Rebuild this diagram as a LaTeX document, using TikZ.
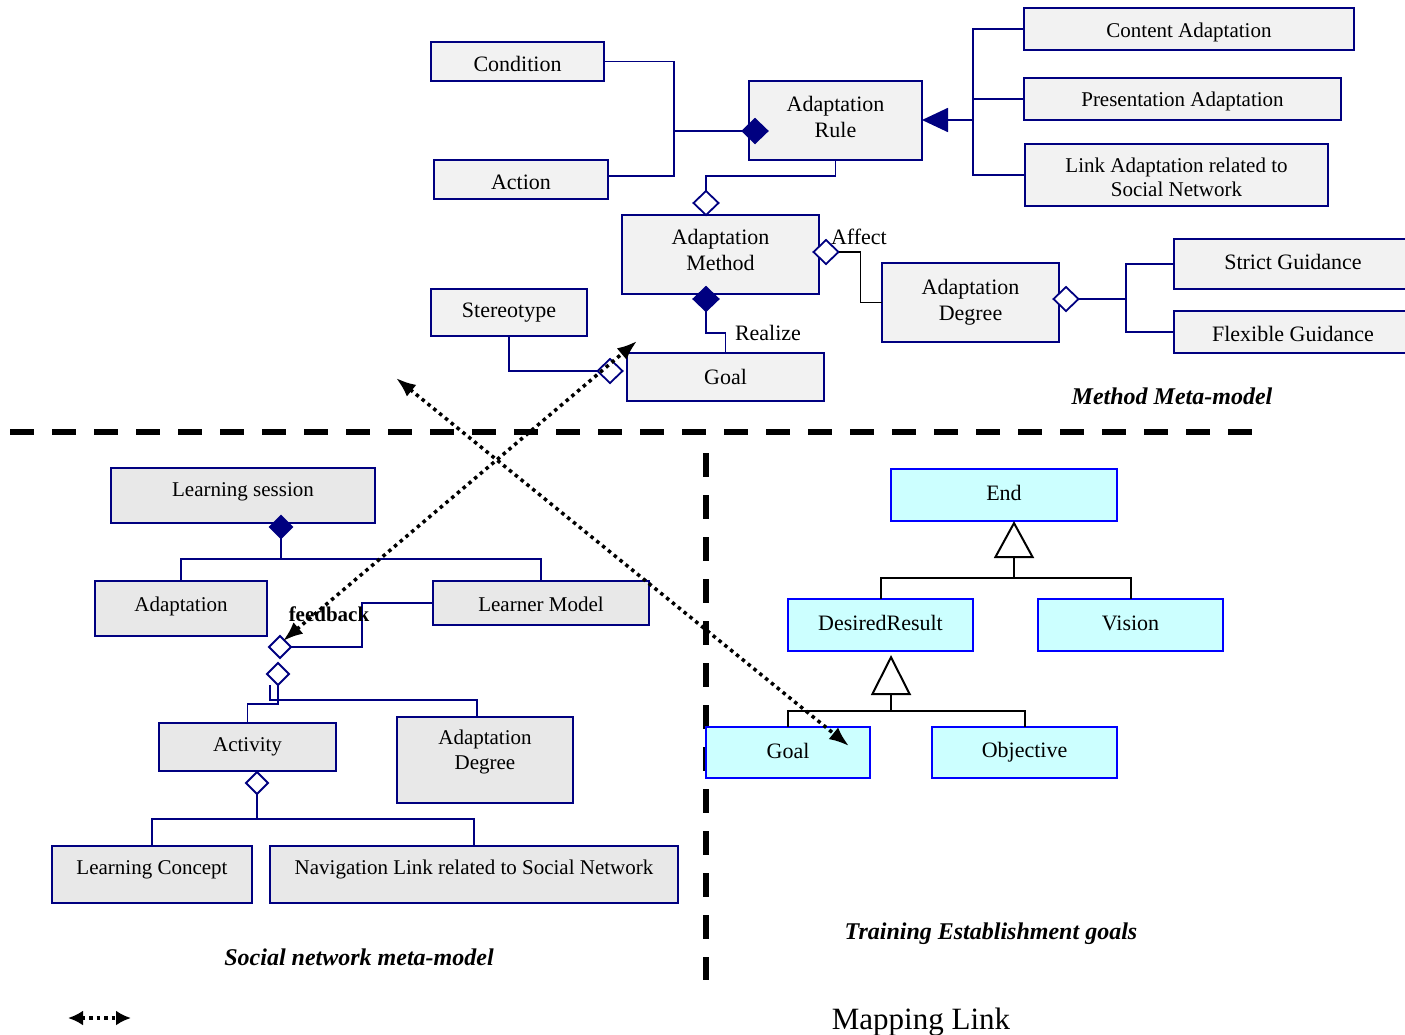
\documentclass[tikz,border=0pt]{standalone}
\usepackage{fontspec}
\setmainfont{Liberation Serif}
\usetikzlibrary{shapes.geometric,arrows.meta}
\definecolor{navy}{RGB}{0,0,128}
\definecolor{boxgray}{RGB}{242,242,242}
\definecolor{boxgrayB}{RGB}{232,232,232}
\definecolor{paleCyan}{RGB}{204,255,255}
\definecolor{brightBlue}{RGB}{0,0,255}
% shift a label inside its box without changing the box's reported size
\newcommand\liftby[2]{\raisebox{#1}[\height][\depth]{#2}}
\newcommand\twolines[2]{\begin{tabular}{@{}c@{}}#1\\#2\end{tabular}}

\begin{document}
\begin{tikzpicture}[x=1pt,y=-1pt,
  every node/.style={inner sep=0pt, outer sep=0pt},
  sz/.style 2 args={minimum width=#1pt, minimum height=#2pt},
  metabox/.style={draw=navy, line width=1.8pt, fill=boxgray, align=center,
    font=\fontsize{22}{26}\selectfont},
  metaboxS/.style={metabox, font=\fontsize{21}{24.5}\selectfont},
  socbox/.style={draw=navy, line width=1.8pt, fill=boxgrayB, align=center,
    font=\fontsize{21}{25}\selectfont},
  goalbox/.style={draw=brightBlue, line width=1.8pt, fill=paleCyan,
    font=\fontsize{22}{26}\selectfont},
  odia/.style={shape=diamond, draw=navy, line width=1.8pt, fill=white,
    minimum width=25pt, minimum height=24pt},
  odiaS/.style={odia, minimum width=22pt, minimum height=22pt},
  fdia/.style={odia, fill=navy},
  fdiaS/.style={odiaS, fill=navy},
  conn/.style={draw=navy, line width=1.8pt},
  gen/.style={draw=black, line width=2pt},
  sep/.style={draw=black, line width=5.5pt, dash pattern=on 24pt off 18pt},
  maplink/.style={draw=black, line width=3.5pt, dash pattern=on 3.5pt off 4pt,
    {Latex[length=20pt,width=15pt]}-{Latex[length=20pt,width=15pt]}},
  lbl/.style={font=\fontsize{22}{26}\selectfont},
  caption/.style={font=\bfseries\itshape\fontsize{24}{28}\selectfont}
]
\useasboundingbox (0,0) rectangle (1405,1034);

% ---------- method meta-model ----------
\node[metabox, sz={173}{39}] (cond) at (517.5,61.5) {\liftby{-2pt}{Condition}};
\node[metabox, sz={174}{39}] (act) at (521,179.5) {\liftby{-2.5pt}{Action}};
\node[metabox, sz={173}{79}] (rule) at (835.5,120.5) {\liftby{1pt}{\twolines{Adaptation}{Rule}}};
\node[metaboxS, sz={330}{42}] (content) at (1189,29) {\liftby{-3pt}{Content Adaptation}};
\node[metaboxS, sz={317}{42}] (pres) at (1182.5,99) {\liftby{-2pt}{Presentation Adaptation}};
\node[metaboxS, sz={303}{62}] (link) at (1176.5,175) {\liftby{-4.5pt}{\twolines{Link Adaptation related to}{Social Network}}};
\node[metabox, sz={197}{79}] (method) at (720.5,254.5) {\liftby{2pt}{\twolines{Adaptation}{Method}}};
\node[metabox, sz={177}{79}] (degT) at (970.5,302.5) {\liftby{0.5pt}{\twolines{Adaptation}{Degree}}};
\node[metabox, sz={238}{50}] (strict) at (1293,264) {\liftby{2pt}{Strict Guidance}};
\node[metabox, sz={238}{42}] (flex) at (1293,332) {\liftby{-2pt}{Flexible Guidance}};
\node[metabox, sz={156}{47}] (stereo) at (509,312.5) {Stereotype};
\node[metabox, sz={197}{48}] (goalT) at (725.5,377) {Goal};

\node[fdia] (dRule) at (755,131) {};
\node[odia] (dMethTop) at (706,203) {};
\node[odia] (dAffect) at (826,252) {};
\node[fdia] (dRealize) at (706,299) {};
\node[odia] (dDegT) at (1066,299) {};
\node[odia] (dStereo) at (610,371) {};

\coordinate (jA) at (674,131);
\draw[conn] (cond.east) -| (jA);
\draw[conn] ([yshift=3.5pt]act.east) -| (jA);
\draw[conn] (jA) -- (dRule.west);
\draw[conn] (rule.south) -- ++(0,16) -| (dMethTop.north);

\coordinate (jR) at (973,120);
\draw[conn, -{Triangle[length=26pt,width=24pt]}] (jR) -- (jR -| rule.east);
\draw[conn] (content.west) -| (jR);
\draw[conn] (pres.west) -- (pres.west -| jR);
\draw[conn] (link.west) -| (jR);

\draw[draw=black, line width=1.8pt] (dAffect.east) -- ++(22,0) |- (degT.west);
\draw[conn] (dRealize.south) -- ++(0,22) -| (goalT.north);

\coordinate (jG) at (1126,299);
\draw[conn] (dDegT.east) -- (jG);
\draw[conn] (strict.west) -| (jG) |- (flex.west);
\draw[conn] (stereo.south) |- (dStereo.west);

\node[lbl, anchor=west] (affectLbl) at (831,237) {Affect};
\node[lbl] (realizeLbl) at (768,333) {Realize};
\node[caption] (capMethod) at (1172,396) {Method Meta-model};

% ---------- separators ----------
\draw[sep] (10,432) -- (1252,432);
\draw[sep] (706,453) -- (706,980);

% ---------- social network meta-model ----------
\node[socbox, sz={264}{55}] (lsess) at (243,495.5) {\liftby{4pt}{Learning session}};
\node[socbox, sz={172}{55}] (adapt) at (181,608.5) {\liftby{2pt}{Adaptation}};
\node[socbox, sz={216}{44}] (lmodel) at (541,603) {\liftby{-1pt}{Learner Model}};
\node[socbox, sz={177}{48}] (activity) at (247.5,747) {\liftby{0.5pt}{Activity}};
\node[socbox, sz={176}{86}] (degB) at (485,760) {\liftby{8pt}{\twolines{Adaptation}{Degree}}};
\node[socbox, sz={200}{57}] (lconcept) at (152,874.5) {\liftby{5pt}{Learning Concept}};
\node[socbox, sz={408}{57}] (navlink) at (474,874.5) {\liftby{5pt}{Navigation Link related to Social Network}};

\node[fdiaS] (dLS) at (281,527) {};
\node[odiaS] (dFeed) at (280,647) {};
\node[odiaS] (dAct2) at (278,674) {};
\node[odiaS] (dAct) at (257,783) {};

\coordinate (jL) at (281,559);
\draw[conn] (dLS.south) -- (jL);
\draw[conn] (adapt.north) |- (jL) -| (lmodel.north);
\draw[conn] (lmodel.west) -- ++(-71,0) |- (dFeed.east);
\draw[conn] ([xshift=-8pt]dAct2.south) -- ++(0,15) -| ([xshift=-8pt]degB.north);
\draw[conn] (dAct2.south) -- ++(0,19) -| (activity.north);
\coordinate (jC) at (257,819);
\draw[conn] (dAct.south) -- (jC);
\draw[conn] (lconcept.north) |- (jC) -| (navlink.north);

\node[font=\bfseries\fontsize{21}{25}\selectfont] (feedLbl) at (329,614) {feedback};
\node[caption] (capSocial) at (359,957) {Social network meta-model};

% ---------- training establishment goals ----------
\node[goalbox, sz={226}{52}] (endn) at (1004,495) {\liftby{2pt}{End}};
\node[goalbox, sz={185}{52}] (desired) at (880.5,625) {\liftby{2pt}{DesiredResult}};
\node[goalbox, sz={185}{52}] (vision) at (1130.5,625) {\liftby{2pt}{Vision}};
\node[goalbox, sz={164}{51}] (goalR) at (788,752.5) {\liftby{2pt}{Goal}};
\node[goalbox, sz={185}{51}] (objective) at (1024.5,752.5) {Objective};

\coordinate (jE) at (1014,578);
\draw[gen] (desired.north) |- (jE) -| (vision.north);
\draw[gen, -{Triangle[fill=white,length=37pt,width=40pt]}] (jE) -- (jE |- endn.south);
\coordinate (jD) at (891,711);
\coordinate (tD) at (891,655);
\draw[gen] (goalR.north) |- (jD) -| (objective.north);
\draw[gen, -{Triangle[fill=white,length=40pt,width=40pt]}] (jD) -- (tD);

\node[caption] (capGoals) at (991,934) {Training Establishment goals};

% ---------- mapping links ----------
\coordinate (mapA) at (283,641);
\coordinate (mapB) at (637,341);
\coordinate (mapC) at (396,378);
\coordinate (mapD) at (849,746);
\draw[maplink] (mapA) -- (mapB);
\draw[maplink] (mapC) -- (mapD);

% legend
\coordinate (legL) at (68,1018);
\coordinate (legR) at (131,1018);
\draw[draw=black, line width=3.5pt, dash pattern=on 3.5pt off 4pt,
  {Latex[length=15pt,width=15pt]}-{Latex[length=15pt,width=15pt]}] (legL) -- (legR);
\node[font=\fontsize{31}{36}\selectfont, anchor=base] (legendLbl) at (921,1029) {Mapping Link};
\end{tikzpicture}
\end{document}
